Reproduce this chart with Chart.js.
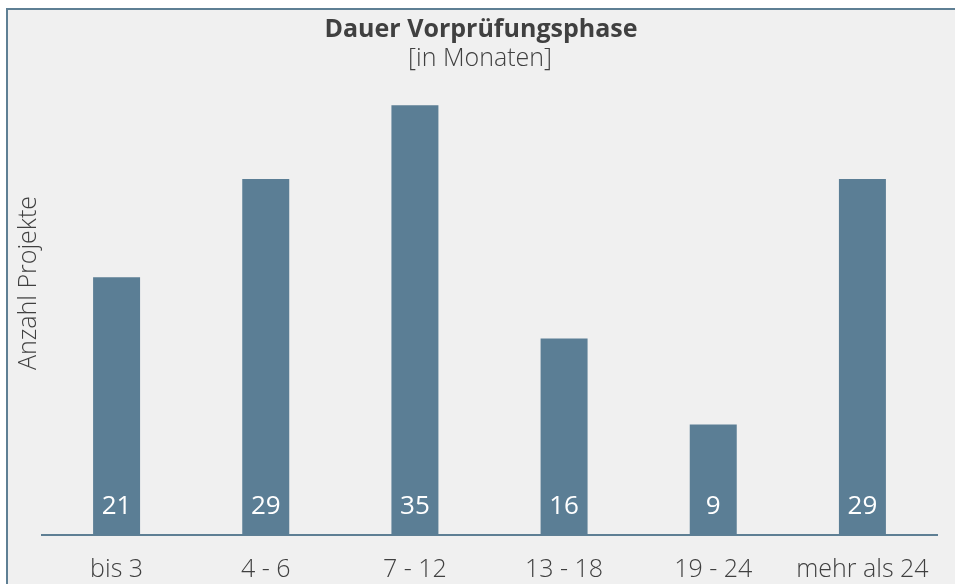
<!DOCTYPE html>
<html lang="de">
<head>
  <meta charset="UTF-8">
  <title>Dauer Vorprüfungsphase</title>
  <script src="https://cdn.jsdelivr.net/npm/chart.js"></script>
  <style>
    html, body { margin: 0; padding: 0; background: #ffffff; overflow: hidden; }
    .frame {
      position: absolute; left: 6px; top: 8px;
      width: 1000px; height: 700px;
      border-left: 2px solid #5e7f94; border-top: 2px solid #5e7f94;
      background: #f0f0f0;
    }
    #chart { position: absolute; left: 0; top: 0; }
  </style>
</head>
<body>
  <div class="frame"></div>
  <canvas id="chart" width="955" height="584"></canvas>
  <script>
    const categories = ['bis 3', '4 - 6', '7 - 12', '13 - 18', '19 - 24', 'mehr als 24'];
    const projects = [21, 29, 35, 16, 9, 29];
    const titleText = 'Dauer Vorprüfungsphase';
    const subtitleText = '[in Monaten]';
    const yTitle = 'Anzahl Projekte';

    const barColor = '#5b7e95';
    const textColor = '#404040';
    const fontFamily = "'Open Sans', sans-serif";

    // white value labels near the foot of each bar
    const valueLabels = {
      id: 'valueLabels',
      afterDatasetsDraw(chart) {
        const ctx = chart.ctx;
        const meta = chart.getDatasetMeta(0);
        const base = chart.scales.y.getPixelForValue(0);
        ctx.save();
        ctx.fillStyle = '#ffffff';
        ctx.font = '400 26px ' + fontFamily;
        ctx.textAlign = 'center';
        ctx.textBaseline = 'middle';
        meta.data.forEach((bar, i) => {
          ctx.fillText(String(projects[i]), bar.x, base - 28);
        });
        ctx.restore();
      }
    };

    // title block centred on the frame, plus rotated y axis caption
    const captions = {
      id: 'captions',
      afterDraw(chart) {
        const ctx = chart.ctx;
        ctx.save();
        ctx.fillStyle = textColor;
        ctx.textAlign = 'center';
        ctx.textBaseline = 'alphabetic';
        ctx.font = 'bold 25px ' + fontFamily;
        ctx.fillText(titleText, 481, 37);
        ctx.font = '300 25px ' + fontFamily;
        ctx.fillText(subtitleText, 480, 66);

        ctx.translate(29, 283);
        ctx.rotate(-Math.PI / 2);
        ctx.textBaseline = 'middle';
        ctx.fillText(yTitle, 0, 0);
        ctx.restore();
      }
    };

    new Chart(document.getElementById('chart'), {
      type: 'bar',
      data: {
        labels: categories,
        datasets: [{
          data: projects,
          backgroundColor: barColor,
          borderWidth: 0,
          categoryPercentage: 1,
          barPercentage: 0.315
        }]
      },
      options: {
        responsive: false,
        animation: false,
        layout: { padding: { left: 42, right: 18, top: 93, bottom: -13 } },
        plugins: {
          legend: { display: false },
          tooltip: { enabled: false },
          title: { display: false }
        },
        scales: {
          x: {
            grid: { display: false },
            border: { display: true, color: '#5e7f94', width: 2 },
            ticks: {
              color: textColor,
              font: { family: fontFamily, size: 25, weight: '300' },
              padding: 12,
              maxRotation: 0,
              autoSkip: false
            }
          },
          y: {
            display: false,
            min: 0,
            max: 36
          }
        }
      },
      plugins: [valueLabels, captions]
    });
  </script>
</body>
</html>
